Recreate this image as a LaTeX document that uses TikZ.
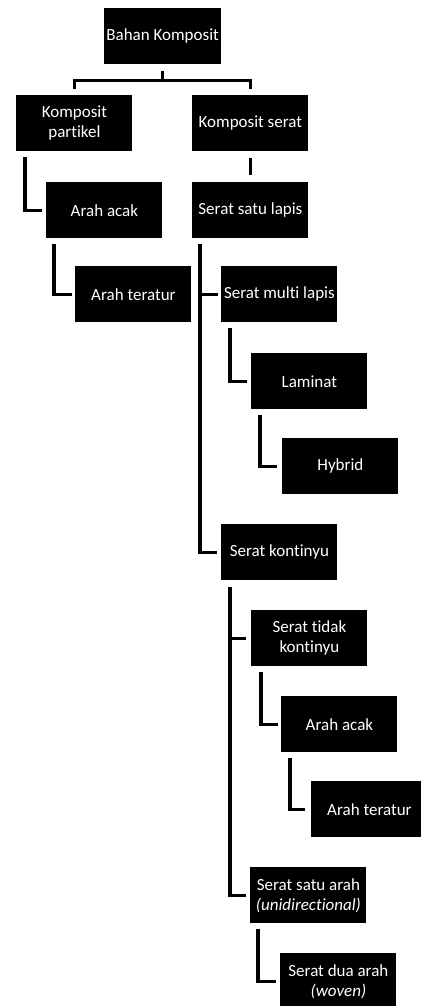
\documentclass[tikz,border=0pt]{standalone}
\usepackage{fontspec}
\setmainfont{Carlito}[Ligatures=NoCommon]

\tikzset{
  box/.style={fill=black, text=white, minimum width=58pt, minimum height=28pt,
    inner sep=1pt, align=center, anchor=north west,
    font=\fontsize{8.5}{10}\selectfont},
  link/.style={draw=black, line width=1.6pt}
}

\begin{document}
\begin{tikzpicture}[x=0.5pt, y=-0.5pt]
  \useasboundingbox (0,0) rectangle (421,1006);

  % Top level
  \node[box] (root) at (104,8) {Bahan Komposit};
  \node[box] (partikel) at (16,95) {Komposit\\partikel};
  \node[box] (serat) at (192,95) {Komposit serat};

  % Particle branch
  \node[box] (acak) at (46,182) {Arah acak};
  \node[box] (teratur) at (75,266) {Arah teratur};

  % Fibre branch
  \node[box] (satulapis) at (192,182) {Serat satu lapis};
  \node[box] (multilapis) at (221,266) {Serat multi lapis};
  \node[box] (laminat) at (251,353) {Laminat};
  \node[box] (hybrid) at (282,438) {Hybrid};
  \node[box] (kontinyu) at (221,524) {Serat kontinyu};
  \node[box] (tidakkontinyu) at (251,610) {Serat tidak\\kontinyu};
  \node[box] (acakb) at (281,696) {Arah acak};
  \node[box] (teraturb) at (311,781) {Arah teratur};
  \node[box] (satuarah) at (250,867) {Serat satu arah\\\textit{(unidirectional)}};
  \node[box] (duaarah) at (280,953) {Serat dua arah\\\textit{(woven)}};

  % Root split
  \coordinate (split) at ([shift={(0,16)}]root.south);
  \draw[link] ([shift={(0,6)}]root.south) -- (split) -| ([shift={(0,-6)}]partikel.north);
  \draw[link] (split) -| ([shift={(0,-6)}]serat.north);
  \draw[link] ([shift={(0,6)}]serat.south) -- ([shift={(0,-7)}]satulapis.north);

  % Elbows
  \draw[link] ([shift={(9,5)}]partikel.south west) |- ([shift={(-4,0)}]acak.west);
  \draw[link] ([shift={(8,5)}]acak.south west) |- ([shift={(-3,0)}]teratur.west);
  \draw[link] ([shift={(9,5)}]multilapis.south west) |- ([shift={(-4,0)}]laminat.west);
  \draw[link] ([shift={(9,5)}]laminat.south west) |- ([shift={(-5,0)}]hybrid.west);
  \draw[link] ([shift={(10,5)}]tidakkontinyu.south west) |- ([shift={(-3,0)}]acakb.west);
  \draw[link] ([shift={(9,5)}]acakb.south west) |- ([shift={(-6,0)}]teraturb.west);
  \draw[link] ([shift={(8,5)}]satuarah.south west) |- ([shift={(-4,0)}]duaarah.west);

  % Trunks with side branches
  \coordinate (trunka) at ([shift={(8,5)}]satulapis.south west);
  \draw[link] (trunka) |- ([shift={(-4,0)}]kontinyu.west);
  \draw[link] (trunka |- multilapis.west) -- ([shift={(-3,0)}]multilapis.west);
  \coordinate (trunkb) at ([shift={(9,6)}]kontinyu.south west);
  \draw[link] (trunkb) |- ([shift={(-4,0)}]satuarah.west);
  \draw[link] (trunkb |- tidakkontinyu.west) -- ([shift={(-5,0)}]tidakkontinyu.west);
\end{tikzpicture}
\end{document}
